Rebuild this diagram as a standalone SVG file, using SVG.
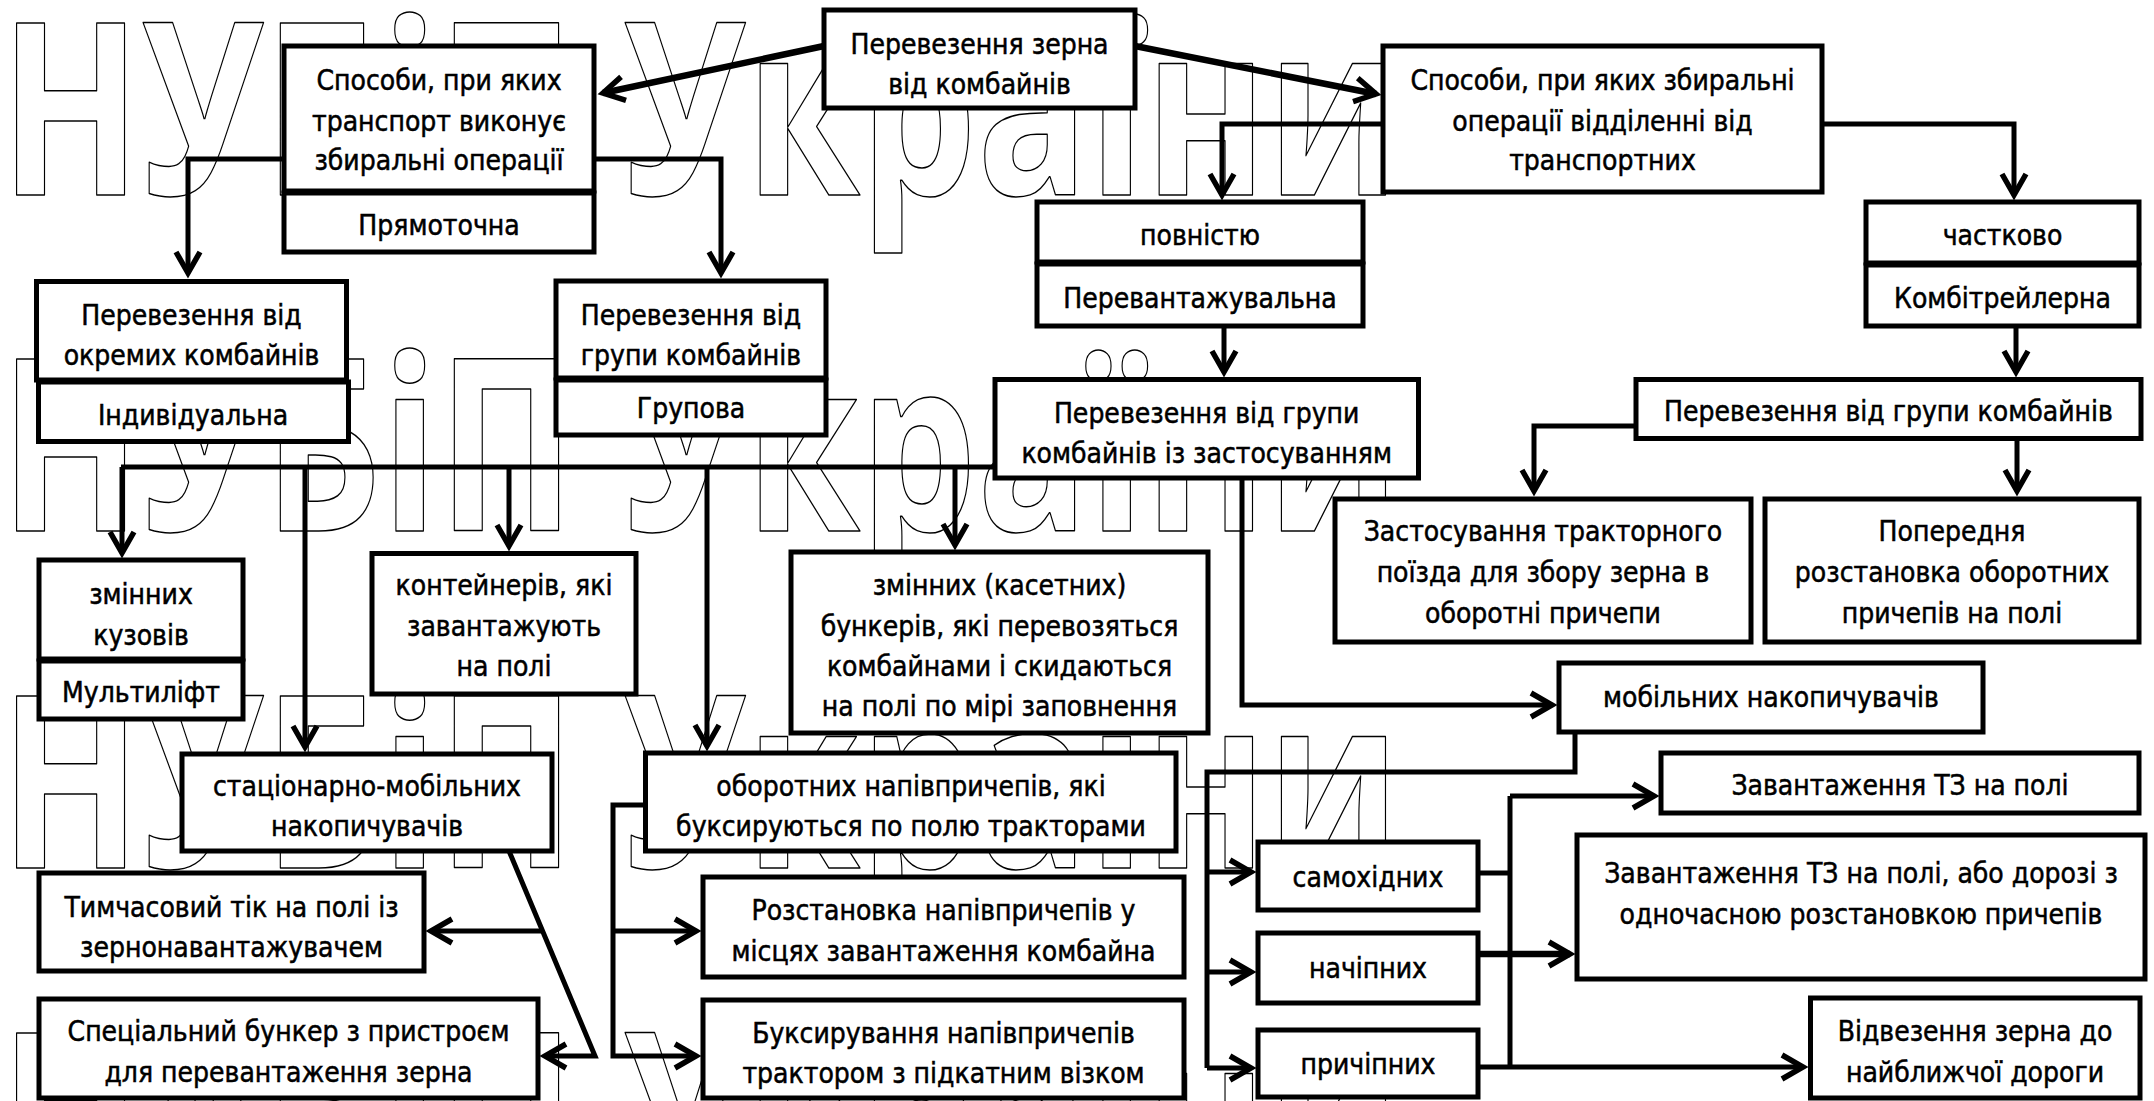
<svg xmlns="http://www.w3.org/2000/svg" width="2154" height="1101" viewBox="0 0 2154 1101">
<style>
.wm{font-family:'Open Sans','Noto Sans',sans-serif;font-weight:700;font-size:241px;fill:none;stroke:#000;stroke-width:1.5;stroke-linejoin:round}
.b{fill:#fff;stroke:#000;stroke-width:5}
.t{font-family:'DejaVu Sans Condensed','DejaVu Sans',sans-serif;font-stretch:condensed;font-size:28px;text-anchor:middle;fill:#000;stroke:#000;stroke-width:0.5}
.c{fill:none;stroke:#000;stroke-width:5;stroke-linejoin:miter}
.a{marker-end:url(#ah)}
.k{stroke-width:6.5}
</style>
<defs>
<marker id="ah" markerUnits="userSpaceOnUse" markerWidth="40" markerHeight="40" viewBox="-30 -20 40 40" refX="0" refY="0" orient="auto" overflow="visible">
<path d="M-21,-12 L0,0 L-21,12" fill="none" stroke="#000" stroke-width="5.5" stroke-linejoin="miter"/>
</marker>
</defs>
<rect width="2154" height="1101" fill="#fff"/>
<g id="watermark">
<text class="wm" x="0" y="195" textLength="1400" lengthAdjust="spacingAndGlyphs">НУБіП України</text>
<text class="wm" x="0" y="531" textLength="1400" lengthAdjust="spacingAndGlyphs">НУБіП України</text>
<text class="wm" x="0" y="868" textLength="1400" lengthAdjust="spacingAndGlyphs">НУБіП України</text>
<text class="wm" x="0" y="1205" textLength="1400" lengthAdjust="spacingAndGlyphs">НУБіП України</text>
</g>
<g id="nodes">
<g id="n-top"><rect class="b" x="824" y="10" width="311" height="98"/>
<text class="t" x="979.5" y="54">Перевезення зерна</text><text class="t" x="979.5" y="94">від комбайнів</text></g>
<g id="n-sp1"><rect class="b" x="284" y="46" width="310" height="145"/><rect class="b" x="284" y="193" width="310" height="59"/>
<text class="t" x="439" y="90">Способи, при яких</text><text class="t" x="439" y="131">транспорт виконує</text><text class="t" x="439" y="170">збиральні операції</text><text class="t" x="439" y="235">Прямоточна</text></g>
<g id="n-sp2"><rect class="b" x="1383" y="46" width="439" height="146"/>
<text class="t" x="1602.5" y="90">Способи, при яких збиральні</text><text class="t" x="1602.5" y="131">операції відділенні від</text><text class="t" x="1602.5" y="170">транспортних</text></g>
<g id="n-okr"><rect class="b" x="36.5" y="281.5" width="310" height="98.5"/><rect class="b" x="38.5" y="382" width="310" height="59.5"/>
<text class="t" x="191.5" y="325">Перевезення від</text><text class="t" x="191.5" y="365">окремих комбайнів</text><text class="t" x="193" y="425">Індивідуальна</text></g>
<g id="n-grp"><rect class="b" x="556" y="281" width="270" height="97"/><rect class="b" x="556" y="380" width="270" height="55"/>
<text class="t" x="691" y="325">Перевезення від</text><text class="t" x="691" y="365">групи комбайнів</text><text class="t" x="691" y="418">Групова</text></g>
<g id="n-pov"><rect class="b" x="1037" y="202" width="326" height="60"/><rect class="b" x="1037" y="264" width="326" height="62"/>
<text class="t" x="1200" y="245">повністю</text><text class="t" x="1200" y="308">Перевантажувальна</text></g>
<g id="n-chast"><rect class="b" x="1866" y="202" width="273" height="61"/><rect class="b" x="1866" y="265" width="273" height="61"/>
<text class="t" x="2002.5" y="245">частково</text><text class="t" x="2002.5" y="308">Комбітрейлерна</text></g>
<g id="n-zast"><rect class="b" x="995" y="379.5" width="423.5" height="98.5"/>
<text class="t" x="1206.7" y="423">Перевезення від групи</text><text class="t" x="1206.7" y="463">комбайнів із застосуванням</text></g>
<g id="n-grp2"><rect class="b" x="1636" y="379.5" width="505" height="59"/>
<text class="t" x="1888.5" y="421">Перевезення від групи комбайнів</text></g>
<g id="n-traktor"><rect class="b" x="1335" y="499" width="416" height="143"/>
<text class="t" x="1543" y="541">Застосування тракторного</text><text class="t" x="1543" y="582">поїзда для збору зерна в</text><text class="t" x="1543" y="623">оборотні причепи</text></g>
<g id="n-poper"><rect class="b" x="1765" y="499" width="374" height="143"/>
<text class="t" x="1952" y="541">Попередня</text><text class="t" x="1952" y="582">розстановка оборотних</text><text class="t" x="1952" y="623">причепів на полі</text></g>
<g id="n-kuz"><rect class="b" x="39" y="560" width="204" height="99"/><rect class="b" x="39" y="661" width="204" height="58"/>
<text class="t" x="141" y="604">змінних</text><text class="t" x="141" y="645">кузовів</text><text class="t" x="141" y="702">Мультиліфт</text></g>
<g id="n-kont"><rect class="b" x="372" y="553.5" width="264" height="140.5"/>
<text class="t" x="504" y="595">контейнерів, які</text><text class="t" x="504" y="635.5">завантажують</text><text class="t" x="504" y="676">на полі</text></g>
<g id="n-kas"><rect class="b" x="791" y="552" width="417" height="181"/>
<text class="t" x="999.5" y="595">змінних (касетних)</text><text class="t" x="999.5" y="635.5">бункерів, які перевозяться</text><text class="t" x="999.5" y="676">комбайнами і скидаються</text><text class="t" x="999.5" y="716">на полі по мірі заповнення</text></g>
<g id="n-mob"><rect class="b" x="1559" y="663" width="424" height="69"/>
<text class="t" x="1771" y="707">мобільних накопичувачів</text></g>
<g id="n-stac"><rect class="b" x="182" y="754" width="370" height="97"/>
<text class="t" x="367" y="796">стаціонарно-мобільних</text><text class="t" x="367" y="836">накопичувачів</text></g>
<g id="n-obor"><rect class="b" x="645.5" y="753" width="530.5" height="98"/>
<text class="t" x="911" y="796">оборотних напівпричепів, які</text><text class="t" x="911" y="836">буксируються по полю тракторами</text></g>
<g id="n-tym"><rect class="b" x="39" y="873" width="385" height="98"/>
<text class="t" x="231.5" y="917">Тимчасовий тік на полі із</text><text class="t" x="231.5" y="957">зернонавантажувачем</text></g>
<g id="n-spec"><rect class="b" x="39" y="999" width="499" height="99"/>
<text class="t" x="288.5" y="1041">Спеціальний бункер з пристроєм</text><text class="t" x="288.5" y="1082">для перевантаження зерна</text></g>
<g id="n-rozst"><rect class="b" x="703" y="877" width="481" height="100"/>
<text class="t" x="943.5" y="920">Розстановка напівпричепів у</text><text class="t" x="943.5" y="961">місцях завантаження комбайна</text></g>
<g id="n-buks"><rect class="b" x="703" y="1000" width="481" height="98"/>
<text class="t" x="943.5" y="1043">Буксирування напівпричепів</text><text class="t" x="943.5" y="1083">трактором з підкатним візком</text></g>
<g id="n-samo"><rect class="b" x="1258" y="842" width="220" height="68"/>
<text class="t" x="1368" y="887">самохідних</text></g>
<g id="n-nach"><rect class="b" x="1258" y="933" width="220" height="70"/>
<text class="t" x="1368" y="978">начіпних</text></g>
<g id="n-prych"><rect class="b" x="1258" y="1030" width="220" height="67"/>
<text class="t" x="1368" y="1074">причіпних</text></g>
<g id="n-zav1"><rect class="b" x="1661" y="753" width="478" height="60"/>
<text class="t" x="1900" y="795">Завантаження ТЗ на полі</text></g>
<g id="n-zav2"><rect class="b" x="1577" y="835" width="568" height="144"/>
<text class="t" x="1861" y="883">Завантаження ТЗ на полі, або дорозі з</text><text class="t" x="1861" y="924">одночасною розстановкою причепів</text></g>
<g id="n-vidv"><rect class="b" x="1810.5" y="998" width="329.5" height="100"/>
<text class="t" x="1975" y="1041">Відвезення зерна до</text><text class="t" x="1975" y="1082">найближчої дороги</text></g>
</g>
<g id="connectors">
<path class="c k a" d="M824,46 L603,93"/>
<path class="c k a" d="M1135,46 L1376,94"/>
<path class="c a" d="M284,159 H188 V273"/>
<path class="c a" d="M594,159 H721 V273"/>
<path class="c a" d="M1383,124 H1222 V195"/>
<path class="c a" d="M1822,124 H2014 V195"/>
<path class="c a" d="M1224,326 V372"/>
<path class="c a" d="M2016,326 V372"/>
<path class="c a" d="M1636,426 H1534 V491"/>
<path class="c a" d="M2017,438 V491"/>
<path class="c" d="M995,467 H121"/>
<path class="c a" d="M122,467 V553"/>
<path class="c a" d="M305,467 V747"/>
<path class="c a" d="M509,467 V546"/>
<path class="c a" d="M707,467 V746"/>
<path class="c a" d="M955,467 V545"/>
<path class="c a" d="M1242,478 V705 H1552"/>
<path class="c" d="M1575,732 V772 H1207 V1068"/>
<path class="c a" d="M1207,872 H1251"/>
<path class="c a" d="M1207,972 H1251"/>
<path class="c a" d="M1207,1068 H1251"/>
<path class="c" d="M1478,873 H1510"/>
<path class="c" d="M1510,796 V1067"/>
<path class="c a" d="M1510,796 H1654"/>
<path class="c a" d="M1478,1067 H1803"/>
<path class="c k a" d="M1478,954 H1570"/>
<path class="c a" d="M509,851 L595,1056 H545"/>
<path class="c a" d="M543,931 H431"/>
<path class="c a" d="M645,805 H613 V1056 H696"/>
<path class="c a" d="M613,931 H696"/>
</g>
</svg>
